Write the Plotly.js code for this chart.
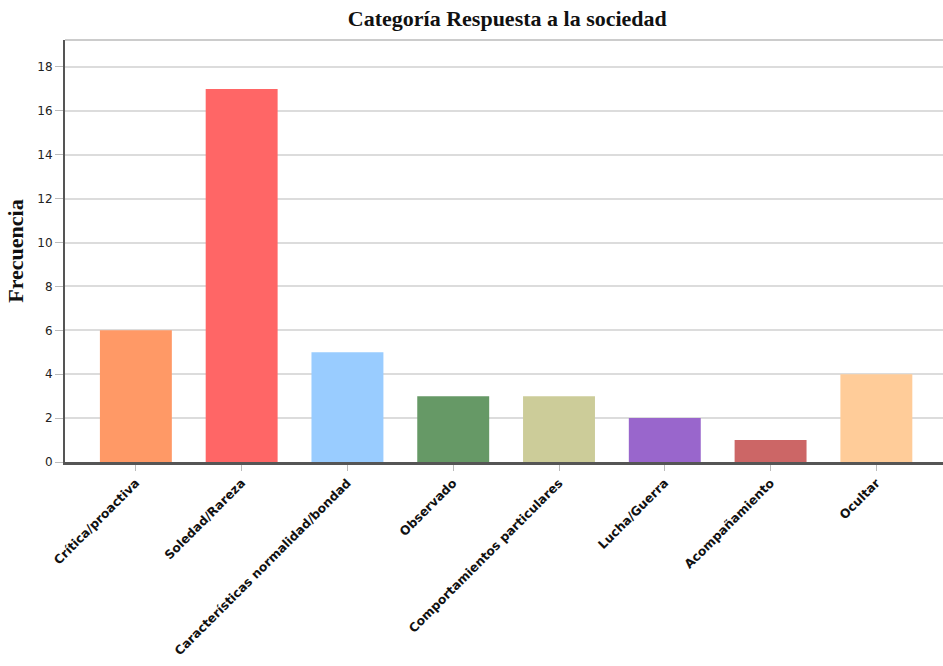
<!DOCTYPE html>
<html><head><meta charset="utf-8">
<script src="https://cdn.plot.ly/plotly-3.0.1.min.js"></script>
<style>html,body{margin:0;padding:0;background:#fff}</style>
</head><body>
<div id="chart" style="width:943px;height:666px"></div>
<script>
const categories = ["Crítica/proactiva","Soledad/Rareza","Características normalidad/bondad","Observado","Comportamientos particulares","Lucha/Guerra","Acompañamiento","Ocultar"];
const values = [6,17,5,3,3,2,1,4];
const colors = ["#FF9966","#FF6666","#99CCFF","#669966","#CCCC99","#9966CC","#CC6666","#FFCC99"];

const data = [{
  type:'bar', x:categories, y:values,
  marker:{color:colors, line:{width:0}},
  width:0.68, hoverinfo:'x+y'
}];
const layout = {
  width:943, height:666,
  margin:{l:65, r:0, t:40, b:204},
  paper_bgcolor:'#fff', plot_bgcolor:'#fff',
  title:{text:'<b>Categoría Respuesta a la sociedad</b>', font:{family:'Liberation Serif, serif', size:22, color:'#111'}, x:0.538, xanchor:'center', y:0.973, yanchor:'middle'},
  xaxis:{
    type:'category', range:[-0.67, 7.63],
    tickangle:-45, tickfont:{family:'DejaVu Sans, sans-serif', size:12.3, color:'#111', weight:'bold'},
    ticks:'outside', ticklen:6, tickcolor:'#bbb', tickwidth:1,
    showline:true, linecolor:'#555', linewidth:3, showgrid:false, zeroline:false,
    mirror:false
  },
  yaxis:{
    range:[0,19.23], dtick:2, tick0:0,
    tickfont:{family:'DejaVu Sans, sans-serif', size:12, color:'#222'},
    ticks:'outside', ticklen:8, tickcolor:'#bbb', tickwidth:1,
    showline:true, linecolor:'#555', linewidth:2,
    showgrid:true, gridcolor:'#dcdcdc', gridwidth:2, zeroline:false,
    title:{text:'<b>Frecuencia</b>', font:{family:'Liberation Serif, serif', size:22, color:'#111'}, standoff:8}
  },
  shapes:[{type:'line', xref:'paper', yref:'paper', x0:0, x1:1, y0:1, y1:1, line:{color:'#999', width:1}}],
  showlegend:false, bargap:0.32
};
Plotly.newPlot('chart', data, layout, {displayModeBar:false, staticPlot:true});
</script>
</body></html>
